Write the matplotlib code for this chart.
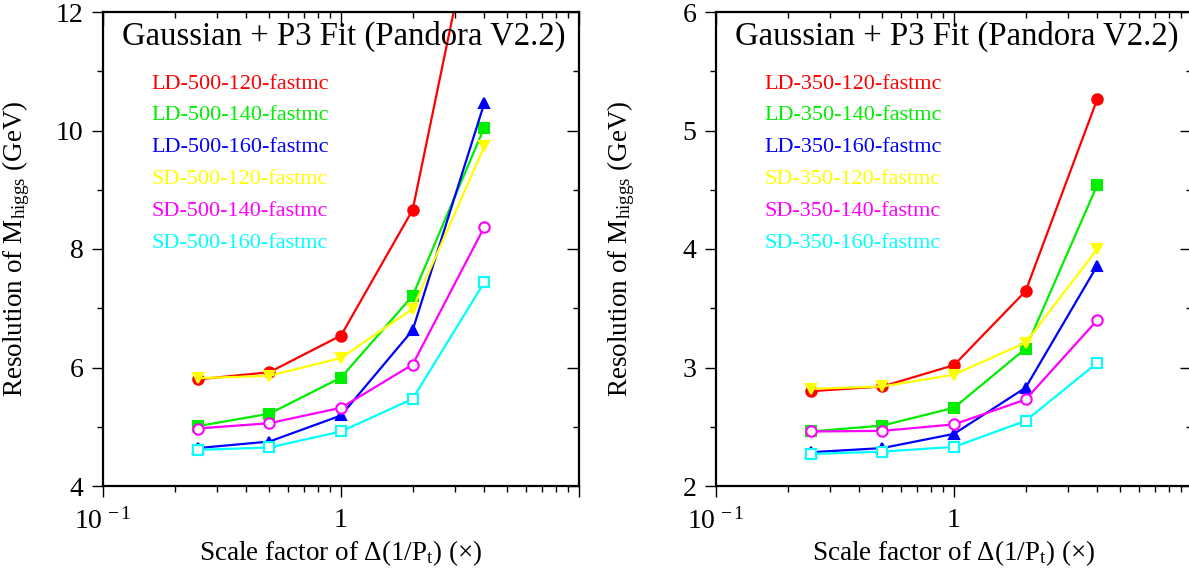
import matplotlib
matplotlib.use("Agg")
import matplotlib.pyplot as plt
from matplotlib.ticker import FixedLocator, FixedFormatter, NullFormatter, LogLocator

plt.rcParams['font.family'] = ['Liberation Serif', 'DejaVu Serif']
plt.rcParams['mathtext.fontset'] = 'custom'
plt.rcParams['mathtext.rm'] = 'Liberation Serif'
plt.rcParams['mathtext.it'] = 'Liberation Serif:italic'

# scale factors applied to delta(1/Pt)
scale = [0.25, 0.5, 1, 2, 4]

# mass resolution (GeV), 500 GeV detectors
names_500 = ["LD-500-120-fastmc", "LD-500-140-fastmc", "LD-500-160-fastmc",
             "SD-500-120-fastmc", "SD-500-140-fastmc", "SD-500-160-fastmc"]
ld500_120 = [5.80, 5.92, 6.54, 8.66, 14.5]
ld500_140 = [5.01, 5.22, 5.83, 7.21, 10.05]
ld500_160 = [4.64, 4.75, 5.19, 6.63, 10.46]
sd500_120 = [5.82, 5.86, 6.16, 6.99, 9.73]
sd500_140 = [4.97, 5.06, 5.32, 6.05, 8.37]
sd500_160 = [4.61, 4.65, 4.92, 5.47, 7.44]

# mass resolution (GeV), 350 GeV detectors
names_350 = ["LD-350-120-fastmc", "LD-350-140-fastmc", "LD-350-160-fastmc",
             "SD-350-120-fastmc", "SD-350-140-fastmc", "SD-350-160-fastmc"]
ld350_120 = [2.80, 2.84, 3.02, 3.645, 5.265]
ld350_140 = [2.46, 2.51, 2.66, 3.16, 4.54]
ld350_160 = [2.285, 2.32, 2.44, 2.83, 3.86]
sd350_120 = [2.82, 2.84, 2.94, 3.21, 4.00]
sd350_140 = [2.46, 2.465, 2.52, 2.73, 3.40]
sd350_160 = [2.27, 2.29, 2.33, 2.55, 3.04]

colors = ["#ff0000", "#00ee00", "#0000ff", "#ffff00", "#ff00ff", "#00ffff"]
markers = ["o", "s", "^", "v", "o", "s"]
filled = [True, True, True, True, False, False]

fig = plt.figure(figsize=(11.89, 5.75), dpi=100)
W, H = 1189.0, 575.0


def panel(left_px, series, names, ylim, ymajor, yminor, ylab_x):
    ax = fig.add_axes([left_px / W, 1 - 486 / H, 476 / W, 474 / H])
    for ys, c, m, f in zip(series, colors, markers, filled):
        ax.plot(scale, ys, color=c, lw=1.6, marker=m, ms=7.5,
                mfc=c if f else 'white', mec=c, mew=1.5, clip_on=True)
    ax.set_xscale('log')
    ax.set_xlim(0.1, 10)
    ax.set_ylim(*ylim)
    ax.xaxis.set_major_locator(FixedLocator([0.1, 1, 10]))
    ax.xaxis.set_major_formatter(FixedFormatter([r'$10^{\,-1}$', '1', '']))
    ax.xaxis.set_minor_locator(LogLocator(base=10, subs=range(2, 10)))
    ax.xaxis.set_minor_formatter(NullFormatter())
    ax.yaxis.set_major_locator(FixedLocator(ymajor))
    ax.yaxis.set_minor_locator(FixedLocator(yminor))
    ax.tick_params(which='both', labelsize=20, width=1, direction='out',
                   top=False, right=False)
    ax.tick_params(which='major', length=8, pad=6)
    ax.tick_params(which='minor', length=4.5)
    ax.tick_params(axis='x', which='major', pad=8)
    # inward ticks on the top and right edges
    sec_x = ax.secondary_xaxis('top')
    sec_x.set_xscale('log')
    sec_x.xaxis.set_major_locator(FixedLocator([0.1, 1, 10]))
    sec_x.xaxis.set_minor_locator(LogLocator(base=10, subs=range(2, 10)))
    sec_x.tick_params(which='both', direction='in', labeltop=False, width=1)
    sec_x.tick_params(which='major', length=9)
    sec_x.tick_params(which='minor', length=4.5)
    sec_x.spines['top'].set_visible(False)
    sec_y = ax.secondary_yaxis('right')
    sec_y.yaxis.set_major_locator(FixedLocator(ymajor))
    sec_y.yaxis.set_minor_locator(FixedLocator(yminor))
    sec_y.tick_params(which='both', direction='in', labelright=False, width=1)
    sec_y.tick_params(which='major', length=9)
    sec_y.tick_params(which='minor', length=4.5)
    sec_y.spines['right'].set_visible(False)
    for s in ax.spines.values():
        s.set_linewidth(1.6)

    ax.set_xlabel(r'Scale factor of $\Delta$(1/P$_{\rm t}$) (×)', fontsize=19.5)
    ax.xaxis.set_label_coords(0.5, -0.11)
    ax.set_ylabel(r'Resolution of M$_{\rm higgs}$ (GeV)', fontsize=19.5)
    ax.yaxis.set_label_coords(ylab_x, 0.5)

    ax.text(0.505, 0.948, 'Gaussian + P3 Fit (Pandora V2.2)', transform=ax.transAxes,
            ha='center', va='center', fontsize=23.6)
    for i, (n, c) in enumerate(zip(names, colors)):
        ax.text(0.101, 0.848 - i * 0.0671, n, color=c, transform=ax.transAxes,
                ha='left', va='center', fontsize=16)
    return ax


panel(103, [ld500_120, ld500_140, ld500_160, sd500_120, sd500_140, sd500_160],
      names_500, (4, 12), [4, 6, 8, 10, 12], [5, 7, 9, 11], -0.15)
panel(716, [ld350_120, ld350_140, ld350_160, sd350_120, sd350_140, sd350_160],
      names_350, (2, 6), [2, 3, 4, 5, 6], [2.5, 3.5, 4.5, 5.5], -0.165)

fig.savefig("out.png", dpi=100)
